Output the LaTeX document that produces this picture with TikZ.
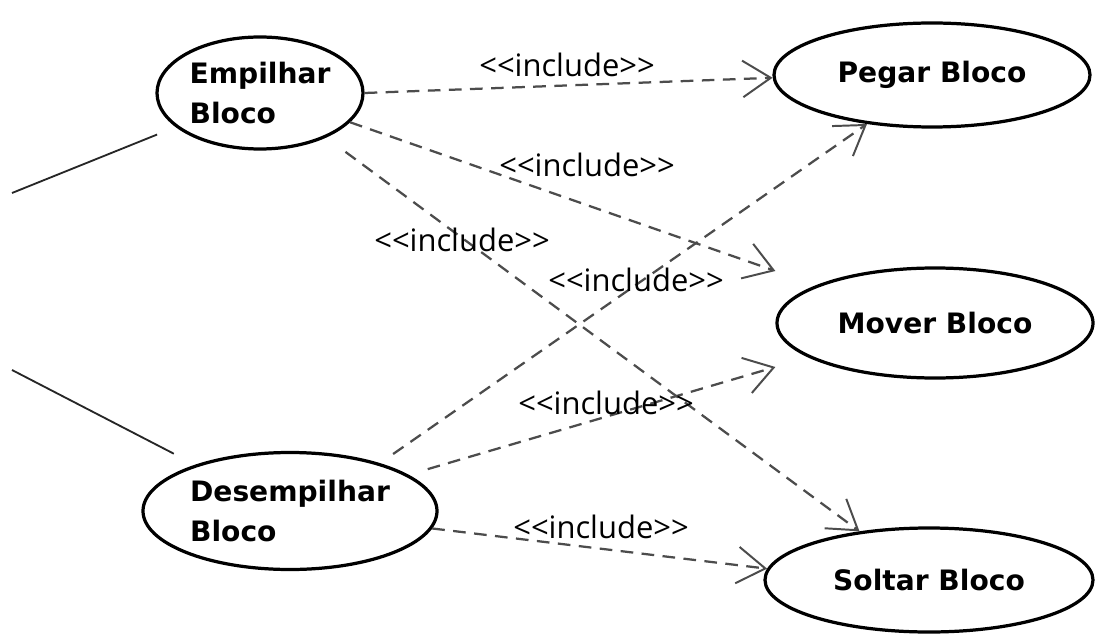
\documentclass[tikz,border=0pt]{standalone}
\usepackage{fontspec}
\setmainfont{DejaVu Sans}
\newfontfamily\inclfont{Open Sans}
\usetikzlibrary{shapes.geometric,arrows.meta}

\tikzset{
  usecase/.style={ellipse, draw=black, line width=2.3pt, inner sep=0pt, align=left,
    font=\fontsize{20}{28}\selectfont\bfseries},
  incl/.style={draw=black!70, line width=1.6pt, dash pattern=on 9pt off 6pt,
    -{Straight Barb[length=20pt, width=26pt, line width=1.4pt]}},
  inclabel/.style={font=\inclfont\fontsize{22}{24}\selectfont, text=black, inner sep=1pt},
  actorline/.style={draw=black!85, line width=1.3pt}
}

\begin{document}
\begin{tikzpicture}
\useasboundingbox[fill=white] (0,0) rectangle (27.4,15.925);

% casos de uso
\node[usecase, minimum width=5.15cm, minimum height=2.8cm] (emp) at (6.5,13.6) {Empilhar\\Bloco};
\node[usecase, minimum width=7.35cm, minimum height=2.925cm] (des) at (7.25,3.15) {Desempilhar\\Bloco};
\node[usecase, minimum width=7.9cm, minimum height=2.6cm] (peg) at (23.3,14.05) {Pegar Bloco};
\node[usecase, minimum width=7.9cm, minimum height=2.75cm] (mov) at (23.375,7.85) {Mover Bloco};
\node[usecase, minimum width=8.2cm, minimum height=2.6cm] (sol) at (23.225,1.425) {Soltar Bloco};

% ligacoes com o ator (fora da figura)
\coordinate (atorA) at (0.3,11.1);
\coordinate (atorB) at (0.3,6.675);
\draw[actorline, shorten >=0.5cm] (atorA) -- (emp.-158);
\draw[actorline, shorten >=0.6cm] (atorB) -- (des.154);

% include
\draw[incl] (emp.east) -- (peg.181);
\draw[incl] (emp.-18) -- ([yshift=1.3cm]mov.west);
\draw[incl, shorten <=0.6cm] (emp.-34) -- (sol.145);
\draw[incl, shorten <=0.4cm] (des.28) -- (peg.-143);
\draw[incl, shorten <=0.5cm] (des.17) -- ([yshift=-1.1cm]mov.west);
\draw[incl] (des.-7) -- (sol.176);

\node[inclabel] (l1) at (14.175,14.3) {<<include>>};
\node[inclabel] (l2) at (14.675,11.8) {<<include>>};
\node[inclabel] (l3) at (11.55,9.925) {<<include>>};
\node[inclabel] (l4) at (15.9,8.925) {<<include>>};
\node[inclabel] (l5) at (15.15,5.85) {<<include>>};
\node[inclabel] (l6) at (15.025,2.75) {<<include>>};
\end{tikzpicture}
\end{document}
